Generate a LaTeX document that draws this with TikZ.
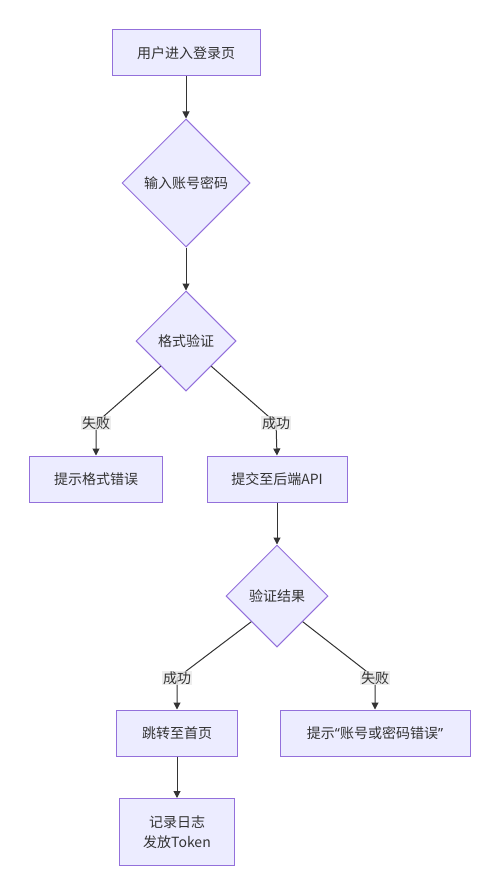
\documentclass[tikz,border=0pt]{standalone}
\usepackage{fontspec}
\setmainfont{Noto Sans CJK SC}
\newfontfamily\latinquote{Noto Sans}
\usetikzlibrary{shapes.geometric,arrows.meta}
\definecolor{boxfill}{HTML}{ECECFF}
\definecolor{boxline}{HTML}{9370DB}
\definecolor{edgeline}{HTML}{333333}
\definecolor{lblfill}{HTML}{E8E8E8}

\begin{document}
\begin{tikzpicture}[x=1pt,y=-1pt,
    every node/.style={font=\fontsize{14}{20}\selectfont,text=edgeline},
    stepbox/.style={draw=boxline,fill=boxfill,line width=1pt,rectangle,inner sep=0pt,minimum height=46pt},
    choice/.style={draw=boxline,fill=boxfill,line width=1pt,diamond,inner sep=0pt,minimum width=#1,minimum height=#1},
    edge/.style={draw=edgeline,line width=1pt,-{Triangle[length=7pt,width=7pt]}},
    lbl/.style={fill=lblfill,fill opacity=0.8,text opacity=1,inner sep=1pt}]
            \useasboundingbox (0,0) rectangle (500,896);
            \node[stepbox,minimum width=148pt] (enter) at (186,53) {用户进入登录页};
            \node[choice=128pt] (input) at (186,183) {输入账号密码};
            \node[choice=100pt] (check) at (186,341) {格式验证};
            \node[stepbox,minimum width=133pt] (fmterr) at (96,479) {提示格式错误};
            \node[stepbox,minimum width=140pt] (submit) at (277,479) {提交至后端API};
            \node[choice=102pt] (result) at (277,596) {验证结果};
            \node[stepbox,minimum width=121pt] (home) at (177,733) {跳转至首页};
            \node[stepbox,minimum width=190pt] (autherr) at (375,733) {提示{\latinquote “}账号或密码错误{\latinquote ”}};
            \node[stepbox,minimum width=115pt,minimum height=67pt,align=center] (token) at (177,832) {记录日志\\发放Token};
            % label positions
            \coordinate (c1) at (96,423);
            \coordinate (c2) at (276,423);
            \coordinate (c3) at (177,678);
            \coordinate (c4) at (375,678);
            \draw[edge](enter)--(input);
            \draw[edge](input)--(check);
            \draw[edge](check.south west)--(c1)--(fmterr.north);
            \draw[edge](check.south east)--(c2)--(submit.north);
            \draw[edge](submit)--(result);
            \draw[edge](result.south west)--(c3)--(home.north);
            \draw[edge](result.south east)--(c4)--(autherr.north);
            \draw[edge](home)--(token);
            \node[lbl] (fail1) at (c1) {失败};
            \node[lbl] (ok1) at (c2) {成功};
            \node[lbl] (ok2) at (c3) {成功};
            \node[lbl] (fail2) at (c4) {失败};
             \end{tikzpicture}
\end{document}
